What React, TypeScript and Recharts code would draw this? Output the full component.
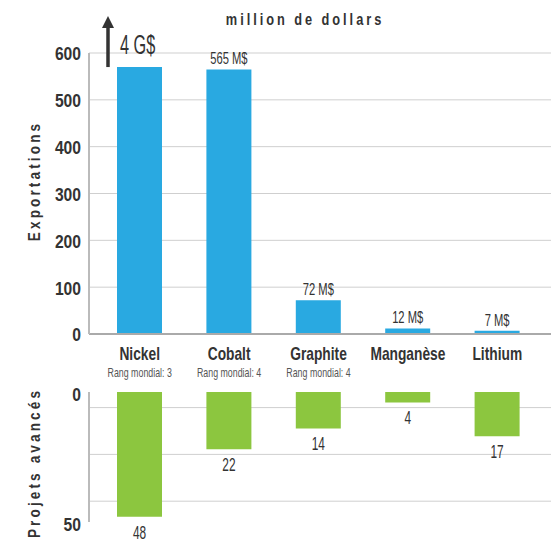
import React from 'react';
import { BarChart, Bar, XAxis, YAxis, CartesianGrid, LabelList } from 'recharts';

const FONT = "'Liberation Sans', Arial, sans-serif";

const minerals = ['Nickel', 'Cobalt', 'Graphite', 'Manganèse', 'Lithium'];
const worldRanks = ['Rang mondial: 3', 'Rang mondial: 4', 'Rang mondial: 4', '', ''];
const exportValues = [570, 565, 72, 12, 7];
const exportLabels = ['4 G$', '565 M$', '72 M$', '12 M$', '7 M$'];
const projectValues = [48, 22, 14, 4, 17];
const exportTicks = [0, 100, 200, 300, 400, 500, 600];
const projectTicks = [0, 50];
const projectGrid = [6, 24, 42];

const topData = minerals.map((name, i) => ({ name, value: exportValues[i], label: exportLabels[i] }));
const bottomData = minerals.map((name, i) => ({ name, value: projectValues[i] }));

// condensed text: horizontally scaled along the text direction
const CText = (props: any) => {
  const { x, y, sx = 0.75, rotate = 0, children, ...rest } = props;
  return (
    <text transform={`translate(${x},${y}) rotate(${rotate}) scale(${sx},1)`} fontFamily={FONT} {...rest}>
      {children}
    </text>
  );
};

const ExportLabel = (props: any) => {
  const { x, y, width, index, value } = props;
  if (index === 0 || value === exportLabels[0]) {
    const ax = x - 9;
    return (
      <g>
        <line x1={ax} y1={y} x2={ax} y2={y - 40} stroke="#333" strokeWidth={3.5} />
        <polygon points={`${ax - 6},${y - 39} ${ax + 6},${y - 39} ${ax},${y - 51}`} fill="#333" />
        <CText x={x + 3} y={y - 13} sx={0.58} fontSize={28} fill="#333">{value}</CText>
      </g>
    );
  }
  return (
    <CText x={x + width / 2} y={y - 5} sx={0.7} textAnchor="middle" fontSize={16} fill="#333">{value}</CText>
  );
};

const ProjectLabel = (props: any) => {
  const { x, y, width, height, value } = props;
  const bottom = Math.max(y, y + height);
  return (
    <CText x={x + width / 2} y={bottom + 22} sx={0.66} textAnchor="middle" fontSize={18} fill="#333">{value}</CText>
  );
};

const MineralTick = (props: any) => {
  const { x, y, payload } = props;
  const idx = minerals.indexOf(payload.value);
  const rank = worldRanks[idx];
  return (
    <g>
      <CText x={x} y={y + 26} sx={0.765} textAnchor="middle" fontWeight="bold" fontSize={18} fill="#333">
        {payload.value}
      </CText>
      {rank ? (
        <CText x={x} y={y + 43} sx={0.68} textAnchor="middle" fontSize={13} fill="#555">
          {rank}
        </CText>
      ) : null}
    </g>
  );
};

const YTick = (props: any) => {
  const { x, y, payload, shift = 1 } = props;
  return (
    <CText x={x} y={y + shift} sx={0.87} textAnchor="end" dy="0.355em" fontWeight="bold" fontSize={18} fill="#333">
      {payload.value}
    </CText>
  );
};

export default function App() {
  return (
    <div style={{ position: 'absolute', left: 0, top: 0, width: 551, height: 560, background: '#fff', overflow: 'hidden' }}>
      <div style={{ position: 'absolute', left: 0, top: 0 }}>
        <BarChart width={551} height={390} data={topData} margin={{ top: 53, right: 0, left: 0, bottom: 0 }}>
          <CartesianGrid vertical={false} stroke="#cfcfcf" />
          <XAxis dataKey="name" padding={{ left: 6, right: 9 }} axisLine={{ stroke: '#aaa', strokeWidth: 2 }}
            tickLine={false} tickSize={0} tickMargin={0} height={56} interval={0} tick={<MineralTick />} />
          <YAxis domain={[0, 600]} ticks={exportTicks} width={89} axisLine={{ stroke: '#bbb', strokeWidth: 2 }}
            tickLine={false} tick={<YTick shift={1} />} />
          <Bar dataKey="value" fill="#29a9e1" barSize={45} isAnimationActive={false}>
            <LabelList dataKey="label" content={<ExportLabel />} />
          </Bar>
        </BarChart>
      </div>
      <div style={{ position: 'absolute', left: 0, top: 380 }}>
        <BarChart width={551} height={180} data={bottomData} margin={{ top: 12, right: 0, left: 0, bottom: 38 }}>
          <CartesianGrid vertical={false} stroke="#cfcfcf" horizontalValues={projectGrid} />
          <XAxis dataKey="name" orientation="top" padding={{ left: 6, right: 9 }}
            axisLine={{ stroke: '#aaa', strokeWidth: 2 }} tickLine={false} tick={false} height={0} />
          <YAxis reversed domain={[0, 50]} ticks={projectTicks} width={89}
            axisLine={{ stroke: '#bbb', strokeWidth: 2 }} tickLine={false} tick={<YTick shift={3} />} />
          <Bar dataKey="value" fill="#8cc63f" barSize={45} isAnimationActive={false}>
            <LabelList dataKey="value" content={<ProjectLabel />} />
          </Bar>
        </BarChart>
      </div>
      <svg width={551} height={560} style={{ position: 'absolute', left: 0, top: 0, pointerEvents: 'none' }}>
        <CText x={305} y={25} sx={0.8} textAnchor="middle" fontSize={16} fontWeight="bold" letterSpacing={3.7}
          fill="#333">million de dollars</CText>
        <CText x={40} y={181} rotate={-90} sx={0.8} textAnchor="middle" fontSize={17} fontWeight="bold"
          letterSpacing={3.9} fill="#333">Exportations</CText>
        <CText x={40} y={463} rotate={-90} sx={0.8} textAnchor="middle" fontSize={17} fontWeight="bold"
          letterSpacing={3.9} fill="#333">Projets avancés</CText>
      </svg>
    </div>
  );
}
